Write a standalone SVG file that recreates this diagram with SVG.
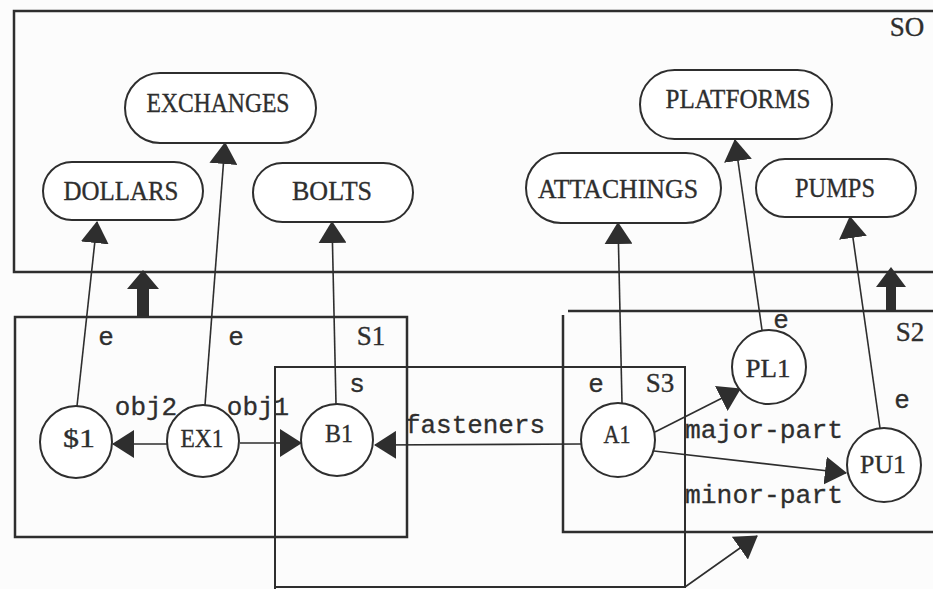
<svg xmlns="http://www.w3.org/2000/svg" width="933" height="589" viewBox="0 0 933 589">
<style>
.bg{fill:#fcfcfc}
.box{fill:none;stroke:#2e2e2e;stroke-width:2.5}
.pill{fill:#fff;stroke:#2e2e2e;stroke-width:2}
.circ{fill:#fff;stroke:#2e2e2e;stroke-width:2}
.edge{fill:none;stroke:#2e2e2e;stroke-width:1.6;marker-end:url(#ah)}
.big{fill:#2e2e2e;stroke:none}
text{font-family:"Liberation Serif","DejaVu Serif",serif;fill:#2e2e2e;stroke:#2e2e2e;stroke-width:0.35;text-anchor:middle}
.cap{font-size:28px}
.nd{font-size:26px}
.lbl{font-family:"Liberation Mono","DejaVu Sans Mono",monospace;font-size:26px;stroke-width:0.3}
.sl{font-size:27px}
</style>
<defs>
<marker id="ah" markerUnits="userSpaceOnUse" markerWidth="22" markerHeight="28" viewBox="0 0 22 28" refX="21" refY="14" orient="auto">
<path d="M0,0 L22,14 L0,28 z" fill="#2e2e2e"/>
</marker>
</defs>
<rect class="bg" x="0" y="0" width="933" height="589"/>

<g id="boxes">
<g id="S0"><path class="box" d="M933,11 H14 V272 H933"/><text class="sl" x="907" y="36">SO</text></g>
<g id="S1"><rect class="box" x="15" y="317" width="392" height="220"/><text class="sl" x="371" y="345">S1</text></g>
<g id="S2"><path class="box" d="M568,311 H933 M563,315 V532 H933"/><text class="sl" x="910" y="341">S2</text></g>
<g id="S3"><path class="box" d="M275,589 V367 H685 V587 H275" style="stroke-width:2"/><text class="sl" x="660" y="392">S3</text></g>
</g>

<g id="connectors">
<path class="edge" d="M77,406 L97,222"/>
<path class="edge" d="M205,405 L225,143"/>
<path class="edge" d="M336,404 L332,222"/>
<path class="edge" d="M622,403 L618,223"/>
<path class="edge" d="M762,330 L735,140"/>
<path class="edge" d="M880,428 L850,217"/>
<path class="edge" d="M167,444 L113,444"/>
<path class="edge" d="M240,443 L301,443"/>
<path class="edge" d="M581,444 L375,445"/>
<path class="edge" d="M655,432 L740,389"/>
<path class="edge" d="M654,451 L846,473"/>
<path class="edge" d="M685,587 L757,536"/>
<path class="big" d="M137,317 V289 H127 L143,270 L159,289 H149 V317 z"/>
<path class="big" d="M886,311 V287 H876 L891,267 L906,287 H896 V311 z"/>
<text class="lbl" x="106" y="345">e</text>
<text class="lbl" x="236" y="345">e</text>
<text class="lbl" x="146" y="415">obj2</text>
<text class="lbl" x="258" y="415">obj1</text>
<text class="lbl" x="357" y="392">s</text>
<text class="lbl" x="475" y="433" textLength="140" lengthAdjust="spacingAndGlyphs">fasteners</text>
<text class="lbl" x="596" y="392">e</text>
<text class="lbl" x="781" y="328">e</text>
<text class="lbl" x="902" y="408">e</text>
<text class="lbl" x="764" y="438" textLength="158" lengthAdjust="spacingAndGlyphs">major-part</text>
<text class="lbl" x="764" y="503" textLength="158" lengthAdjust="spacingAndGlyphs">minor-part</text>
</g>

<g id="EXCHANGES"><rect class="pill" x="125" y="73" width="191" height="70" rx="35"/><text class="cap" x="218" y="112" textLength="143" lengthAdjust="spacingAndGlyphs">EXCHANGES</text></g>
<g id="DOLLARS"><rect class="pill" x="43" y="162" width="160" height="58" rx="29"/><text class="cap" x="121" y="200" textLength="115" lengthAdjust="spacingAndGlyphs">DOLLARS</text></g>
<g id="BOLTS"><rect class="pill" x="253" y="163" width="160" height="59" rx="29.5"/><text class="cap" x="332" y="200" textLength="80" lengthAdjust="spacingAndGlyphs">BOLTS</text></g>
<g id="PLATFORMS"><rect class="pill" x="640" y="70" width="192" height="69" rx="34.5"/><text class="cap" x="738" y="108" textLength="145" lengthAdjust="spacingAndGlyphs">PLATFORMS</text></g>
<g id="ATTACHINGS"><rect class="pill" x="526" y="153" width="195" height="70" rx="35"/><text class="cap" x="618" y="198" textLength="160" lengthAdjust="spacingAndGlyphs">ATTACHINGS</text></g>
<g id="PUMPS"><rect class="pill" x="756" y="159" width="160" height="58" rx="29"/><text class="cap" x="835" y="197" textLength="80" lengthAdjust="spacingAndGlyphs">PUMPS</text></g>

<g id="n-S1"><circle class="circ" cx="76" cy="442" r="36"/><text class="nd" x="79" y="447" textLength="32" lengthAdjust="spacingAndGlyphs">$1</text></g>
<g id="n-EX1"><circle class="circ" cx="203" cy="441" r="36"/><text class="nd" x="202" y="447" textLength="43" lengthAdjust="spacingAndGlyphs">EX1</text></g>
<g id="n-B1"><circle class="circ" cx="337" cy="440" r="36"/><text class="nd" x="339" y="442" textLength="28" lengthAdjust="spacingAndGlyphs">B1</text></g>
<g id="n-A1"><circle class="circ" cx="618" cy="440" r="37"/><text class="nd" x="617" y="443" textLength="27" lengthAdjust="spacingAndGlyphs">A1</text></g>
<g id="n-PL1"><circle class="circ" cx="769" cy="367" r="37"/><text class="nd" x="768" y="377" textLength="45" lengthAdjust="spacingAndGlyphs">PL1</text></g>
<g id="n-PU1"><circle class="circ" cx="884" cy="465" r="37"/><text class="nd" x="883" y="473" textLength="46" lengthAdjust="spacingAndGlyphs">PU1</text></g>
</svg>
